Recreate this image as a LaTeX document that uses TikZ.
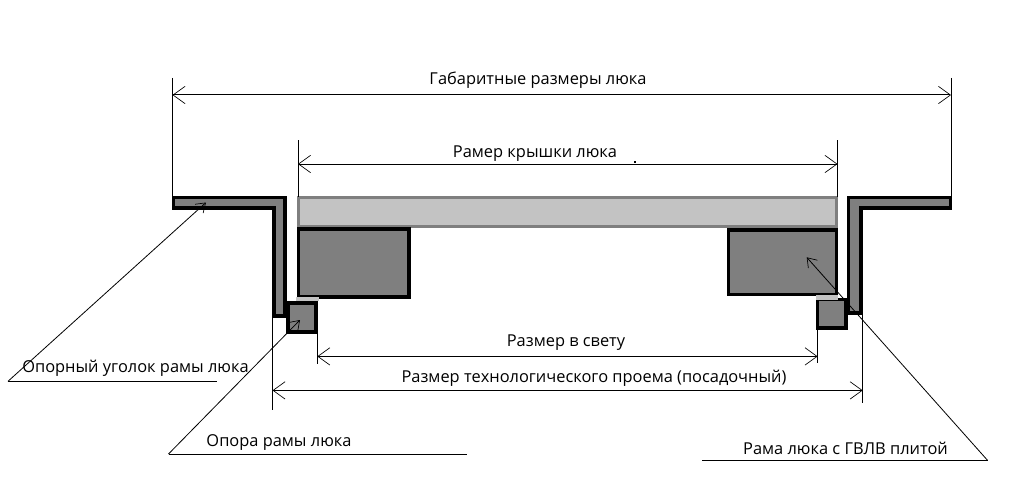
\documentclass[tikz,border=0pt]{standalone}
\usepackage{fontspec}
\setmainfont{Open Sans}
\usetikzlibrary{arrows.meta}
\definecolor{partgray}{HTML}{7F7F7F}
\definecolor{lidgray}{HTML}{C3C3C3}
\tikzset{
  x=0.75pt,y=-0.75pt,
  part/.style={draw=black,line width=2.5pt,fill=partgray,line join=miter},
  lid/.style={draw=partgray,line width=2.25pt,fill=lidgray},
  pad/.style={fill=lidgray,draw=none},
  ext/.style={draw=black,line width=0.75pt},
  dim/.style={draw=black,line width=0.75pt,{Straight Barb[length=9pt,width=13pt,line width=0.5pt]}-{Straight Barb[length=9pt,width=13pt,line width=0.5pt]}},
  leader/.style={draw=black,line width=0.6pt,-{Straight Barb[length=6.5pt,width=9pt,line width=0.5pt]}},
  shelf/.style={draw=black,line width=0.75pt},
  lbl/.style={font=\fontsize{12.3pt}{14pt}\selectfont,inner sep=0pt,text=black},
}
\begin{document}
\begin{tikzpicture}
\useasboundingbox (0,0) rectangle (1010,478);
% parts
\draw[part] (173.5,197.5) -- (285,197.5) -- (285,316) -- (274,316) -- (274,208) -- (173.5,208) -- cycle;
\draw[part] (848.7,197.5) -- (950.5,197.5) -- (950.5,208) -- (861,208) -- (861,313) -- (848.7,313) -- cycle;
\draw[lid] (298.5,197.5) rectangle (836,226);
\draw[part] (298.5,229) rectangle (409,297);
\draw[part] (728.5,230) rectangle (836.5,294.5);
\draw[part] (288,303) rectangle (316,332);
\draw[part] (817.5,299.5) rectangle (846,328);
\fill[pad] (296,297) rectangle (318.5,301.3);
\fill[pad] (816,295) rectangle (838,299.7);
% reference points
\coordinate (gL0) at (172.5,78);  \coordinate (gL1) at (172.5,197);
\coordinate (gR0) at (951,78);    \coordinate (gR1) at (951,197);
\coordinate (kL0) at (298,140);   \coordinate (kL1) at (298,197);
\coordinate (kR0) at (837.5,140); \coordinate (kR1) at (837.5,197);
\coordinate (sL0) at (317.3,333); \coordinate (sL1) at (317.3,363.5);
\coordinate (sR0) at (817.6,329); \coordinate (sR1) at (817.6,363);
\coordinate (tL0) at (272.5,317); \coordinate (tL1) at (272.5,409.5);
\coordinate (tR0) at (862.7,314); \coordinate (tR1) at (862.7,403);
\coordinate (gA) at (172.5,95);   \coordinate (gB) at (951,95);
\coordinate (kA) at (298,164);    \coordinate (kB) at (837.5,164);
\coordinate (sA) at (317.3,356.4);\coordinate (sB) at (817.6,356.4);
\coordinate (tA) at (272.5,390.4);\coordinate (tB) at (862.7,390.4);
\coordinate (u0) at (216.7,381.3);\coordinate (u1) at (8,381.3);  \coordinate (u2) at (206,202.5);
\coordinate (o0) at (466.7,454);  \coordinate (o1) at (168.5,454);\coordinate (o2) at (300,320);
\coordinate (r0) at (702,460.3);  \coordinate (r1) at (987.5,460.3);\coordinate (r2) at (806.7,257.3);
% extension lines
\draw[ext] (gL0) -- (gL1);
\draw[ext] (gR0) -- (gR1);
\draw[ext] (kL0) -- (kL1);
\draw[ext] (kR0) -- (kR1);
\draw[ext] (sL0) -- (sL1);
\draw[ext] (sR0) -- (sR1);
\draw[ext] (tL0) -- (tL1);
\draw[ext] (tR0) -- (tR1);
% dimension lines
\draw[dim] (gA) -- (gB);
\draw[dim] (kA) -- (kB);
\draw[dim] (sA) -- (sB);
\draw[dim] (tA) -- (tB);
% leaders
\draw[shelf] (u0) -- (u1);
\draw[leader] (u1) -- (u2);
\draw[shelf] (o0) -- (o1);
\draw[leader] (o1) -- (o2);
\draw[shelf] (r0) -- (r1);
\draw[leader] (r1) -- (r2);
% stray dot
\fill[black] (634,160.5) rectangle (636,162.5);
% labels
\node[lbl] (t1) at (538,79.8) {Габаритные размеры люка};
\node[lbl] (t2) at (535,153.8) {Рамер крышки люка};
\node[lbl] (t3) at (566,342.8) {Размер в свету};
\node[lbl] (t4) at (594,377.8) {Размер технологического проема (посадочный)};
\node[lbl] (t5) at (135.5,367.8) {Опорный уголок рамы люка};
\node[lbl] (t6) at (279,442.8) {Опора рамы люка};
\node[lbl] (t7) at (845.5,448.8) {Рама люка с ГВЛВ плитой};
\end{tikzpicture}
\end{document}
